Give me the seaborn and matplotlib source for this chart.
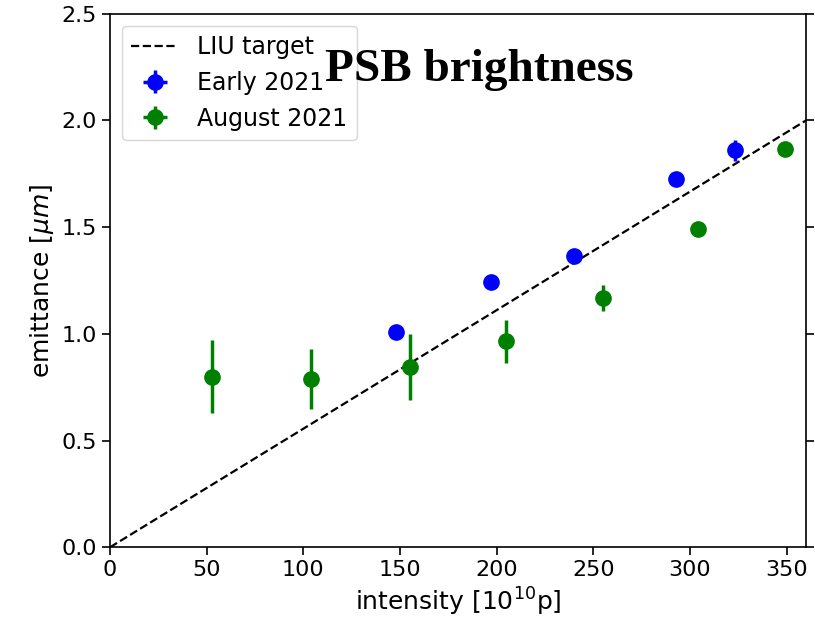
import numpy as np
import pandas as pd
import seaborn as sns
import matplotlib.pyplot as plt

# data
early_x = [148, 197, 240, 293, 323]
early_y = [1.01, 1.245, 1.366, 1.725, 1.86]
early_err = [0.01, 0.01, 0.015, 0.015, 0.05]

aug_x = [53, 104, 155, 205, 255, 304, 349]
aug_y = [0.80, 0.79, 0.845, 0.965, 1.168, 1.49, 1.865]
aug_err = [0.17, 0.14, 0.155, 0.10, 0.06, 0.02, 0.01]

target_x = [0, 360]
target_y = [0, 2.0]

sns.set_style("ticks", {"text.color": "black", "axes.labelcolor": "black",
                        "xtick.color": "black", "ytick.color": "black",
                        "axes.edgecolor": "black"})
plt.rcParams["font.family"] = ["DejaVu Sans"]

fig, ax = plt.subplots(figsize=(8.15, 6.24), dpi=100)
fig.subplots_adjust(left=0.135, right=0.989, top=0.978, bottom=0.123)

target = pd.DataFrame({"x": target_x, "y": target_y})
sns.lineplot(data=target, x="x", y="y", ax=ax, color="black", linestyle="--",
             linewidth=1.6, label="LIU target")

ax.errorbar(early_x, early_y, yerr=early_err, xerr=[0.5] * len(early_x), fmt="o",
            color="blue", markersize=11, elinewidth=2.5, label="Early 2021")
ax.errorbar(aug_x, aug_y, yerr=aug_err, xerr=[0.5] * len(aug_x), fmt="o",
            color="green", markersize=11, elinewidth=2.5, label="August 2021")

ax.set_xlim(0, 360)
ax.set_ylim(0, 2.5)
ax.set_xticks([0, 50, 100, 150, 200, 250, 300, 350])
ax.set_yticks([0.0, 0.5, 1.0, 1.5, 2.0, 2.5])
ax.tick_params(labelsize=16, right=True, length=6, width=1.2)
for s in ax.spines.values():
    s.set_linewidth(1.2)

ax.set_xlabel("intensity [10$^{10}$p]", fontsize=18)
ax.set_ylabel("emittance [$\\mu m$]", fontsize=18)

ax.legend(loc="upper left", fontsize=17, frameon=True)

ax.text(0.53, 0.895, "PSB brightness", transform=ax.transAxes, ha="center", va="center",
        fontsize=34, fontweight="bold", family="Liberation Serif", color="black",
        zorder=10)

fig.savefig("out.png", dpi=100)
